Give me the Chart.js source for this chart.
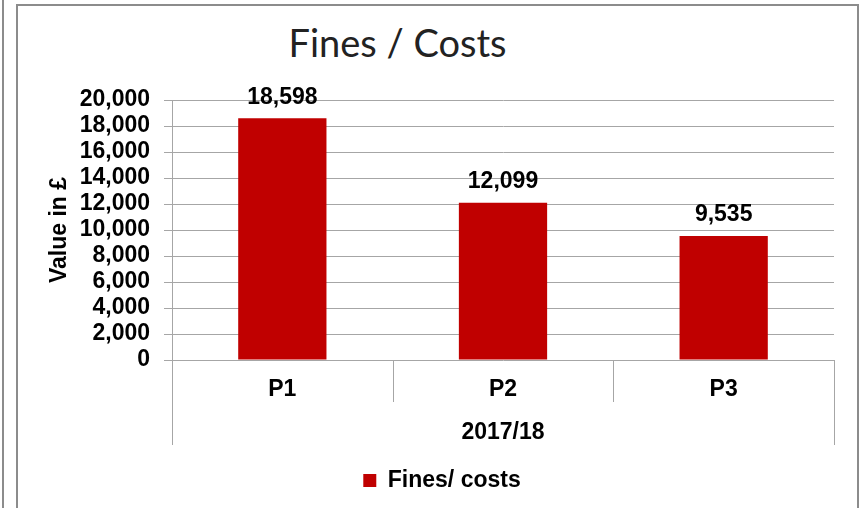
<!DOCTYPE html>
<html>
<head>
<meta charset="utf-8">
<script src="https://cdn.jsdelivr.net/npm/chart.js@4.4.1/dist/chart.umd.min.js"></script>
<style>
  html, body { margin: 0; padding: 0; background: #fff; }
  #wrap { position: relative; width: 863px; height: 508px; overflow: hidden; }
  #frame { position: absolute; left: 16px; top: 4px; width: 839px; height: 520px; border: 2px solid #8c8c8c; }
  #leftLine { position: absolute; left: 2px; top: 0; width: 2px; height: 508px; background: #8c8c8c; }
  #title { position: absolute; left: 0; top: 19px; width: 795px; text-align: center;
           font-family: Lato, "Open Sans", sans-serif; font-size: 38px; color: #222; }
  canvas { position: absolute; left: 0; top: 0; }
</style>
</head>
<body>
<div id="wrap">
  <div id="leftLine"></div>
  <div id="frame"></div>
  <div id="title">Fines / Costs</div>
  <canvas id="chart" width="863" height="508"></canvas>
</div>
<script>
// ===== data =====
const categories = ["P1", "P2", "P3"];
const groupLabel = "2017/18";
const seriesName = "Fines/ costs";
const values = [18598, 12099, 9535];
const yMax = 20000;
const yStep = 2000;

const barColor = "#c00000";
const gridColor = "#a6a6a6";
const labelFont = { family: "'Liberation Sans', Arial, sans-serif", size: 23, weight: "bold" };

// value labels above bars
const valueLabels = {
  id: "valueLabels",
  afterDatasetsDraw(chart) {
    const ctx = chart.ctx;
    const meta = chart.getDatasetMeta(0);
    ctx.save();
    ctx.font = "bold 23px 'Liberation Sans', Arial, sans-serif";
    ctx.fillStyle = "#000";
    ctx.textAlign = "center";
    ctx.textBaseline = "middle";
    meta.data.forEach((bar, i) => {
      ctx.fillText(values[i].toLocaleString("en-GB"), bar.x, bar.y - 21);
    });
    ctx.restore();
  }
};

// category separators below the axis
const separators = {
  id: "separators",
  afterDraw(chart) {
    const x = chart.scales.x;
    const ctx = chart.ctx;
    const bottom = chart.chartArea.bottom;
    const half = (x.getPixelForValue(1) - x.getPixelForValue(0)) / 2;
    ctx.save();
    ctx.strokeStyle = gridColor;
    ctx.lineWidth = 1;
    for (let i = 0; i <= categories.length; i++) {
      const px = Math.round(i < categories.length ? x.getPixelForValue(i) - half : x.getPixelForValue(i - 1) + half) + 0.5;
      const outer = i === 0 || i === categories.length;
      ctx.beginPath();
      ctx.moveTo(px, bottom);
      ctx.lineTo(px, bottom + (outer ? 85 : 42));
      ctx.stroke();
    }
    ctx.restore();
  }
};

// legend sits centred on the frame, not the canvas
const legendShift = {
  id: "legendShift",
  afterLayout(chart) {
    chart.legend.left += 33;
  }
};

new Chart(document.getElementById("chart"), {
  type: "bar",
  data: {
    labels: categories,
    datasets: [{
      label: seriesName,
      data: values,
      backgroundColor: barColor,
      categoryPercentage: 1,
      barPercentage: 0.4
    }]
  },
  options: {
    responsive: false,
    animation: false,
    layout: { padding: { left: 17, right: 29, top: 100, bottom: 6 } },
    plugins: {
      legend: {
        position: "bottom",
        labels: { font: labelFont, color: "#000", boxWidth: 13, boxHeight: 13, padding: 10 }
      },
      tooltip: { enabled: false }
    },
    scales: {
      x: {
        grid: { display: false },
        border: { display: false },
        ticks: { font: labelFont, color: "#000", padding: 8 },
        title: { display: true, text: groupLabel, font: labelFont, color: "#000", padding: { top: 10, bottom: 13 } },
        afterFit(scale) { scale.height = 99; }
      },
      y: {
        min: 0,
        max: yMax,
        ticks: {
          stepSize: yStep,
          autoSkip: false,
          font: labelFont,
          color: "#000",
          padding: 14,
          callback: v => v.toLocaleString("en-GB")
        },
        grid: { color: gridColor, tickLength: 8 },
        border: { color: gridColor },
        title: { display: true, text: "Value in £", font: labelFont, color: "#000", padding: { top: 29, bottom: 0 } },
        afterFit(scale) { scale.width = 155; }
      }
    }
  },
  plugins: [valueLabels, separators, legendShift]
});
</script>
</body>
</html>
